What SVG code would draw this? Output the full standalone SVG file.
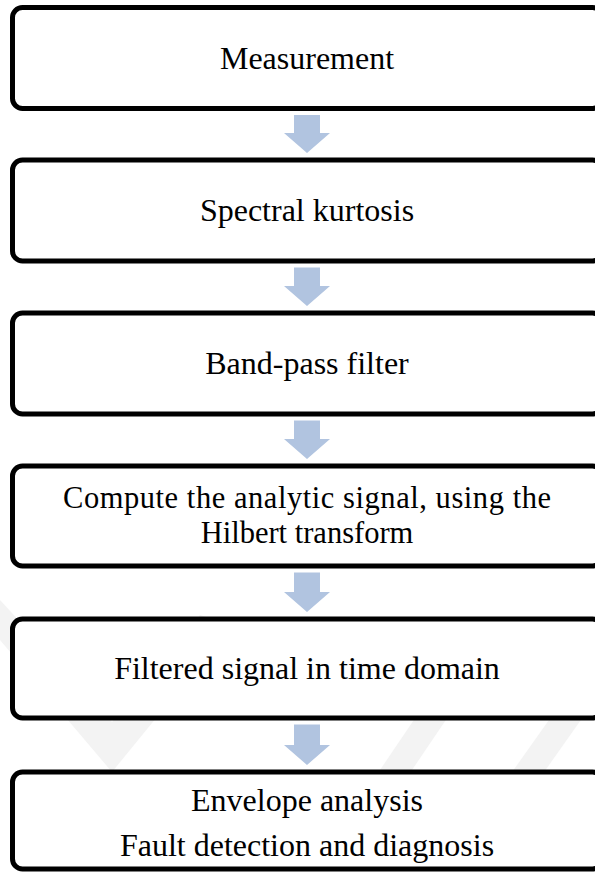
<svg xmlns="http://www.w3.org/2000/svg" width="595" height="872" viewBox="0 0 595 872">
<style>
.box{fill:#ffffff;stroke:#000000;stroke-width:5}
.lbl{font-family:"Liberation Serif","Times New Roman",serif;font-size:32px;fill:#000000;text-anchor:middle}
.sm{font-size:30.5px}
.arr{fill:#b1c4e0}
.wm{fill:#f3f3f3}
</style>
<g id="watermark">
<polygon class="wm" points="0,600 0,640 112,772 232,625 200,615 112,722"/>
<polygon class="wm" points="380,770 412,770 500,640 468,640"/>
<polygon class="wm" points="510,775 542,775 595,700 595,655"/>
</g>
<g id="connectors">
<polygon class="arr" points="294,115 320,115 320,133 330,133 307,153 284,133 294,133"/>
<polygon class="arr" points="294,267.5 320,267.5 320,286 330,286 307,306 284,286 294,286"/>
<polygon class="arr" points="294,420.5 320,420.5 320,439 330,439 307,459 284,439 294,439"/>
<polygon class="arr" points="294,572.5 320,572.5 320,592 330,592 307,612 284,592 294,592"/>
<polygon class="arr" points="294,724.5 320,724.5 320,745 330,745 307,765 284,745 294,745"/>
</g>
<g id="n1"><rect class="box" x="12.5" y="7.5" width="590" height="101" rx="10"/><text class="lbl" x="307" y="68.5">Measurement</text></g>
<g id="n2"><rect class="box" x="12.5" y="160" width="590" height="101" rx="10"/><text class="lbl" x="307" y="221">Spectral kurtosis</text></g>
<g id="n3"><rect class="box" x="12.5" y="313" width="590" height="101" rx="10"/><text class="lbl" x="307" y="374">Band-pass filter</text></g>
<g id="n4"><rect class="box" x="12.5" y="466" width="590" height="100" rx="10"/><text class="lbl sm" x="307" y="508" textLength="488" lengthAdjust="spacing">Compute the analytic signal, using the</text><text class="lbl sm" x="307" y="543">Hilbert transform</text></g>
<g id="n5"><rect class="box" x="12.5" y="619" width="590" height="99" rx="10"/><text class="lbl" x="307" y="679">Filtered signal in time domain</text></g>
<g id="n6"><rect class="box" x="12.5" y="772" width="590" height="97" rx="10"/><text class="lbl" x="307" y="811">Envelope analysis</text><text class="lbl" x="307" y="856">Fault detection and diagnosis</text></g>
</svg>
